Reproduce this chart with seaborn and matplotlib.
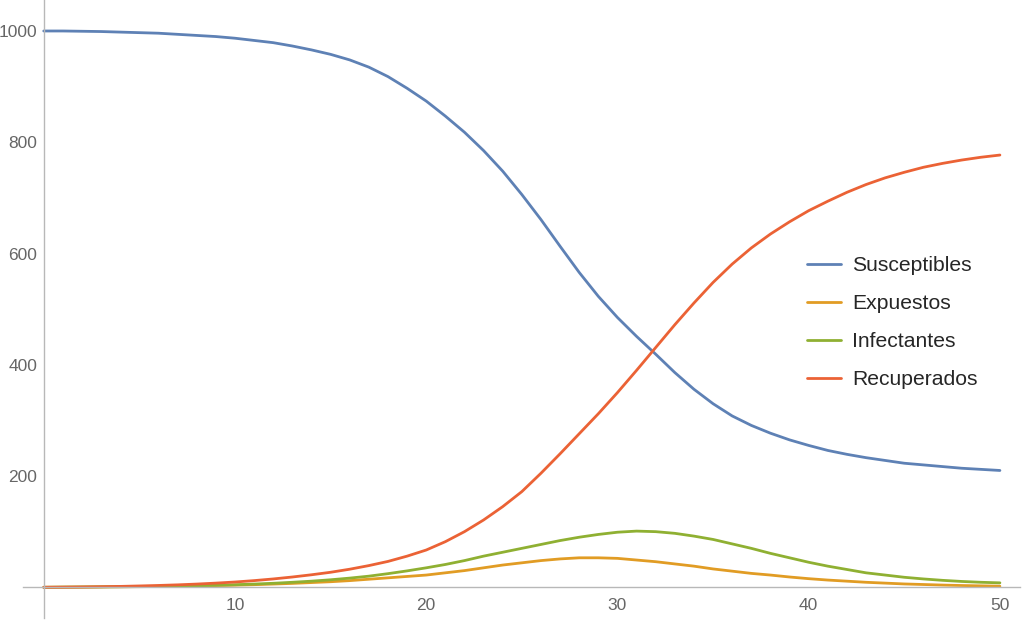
import numpy as np
import pandas as pd
import seaborn as sns
import matplotlib.pyplot as plt
from matplotlib.ticker import FixedLocator

# valores (t = 0..50)
dias = list(range(51))
susceptibles = [1000, 1000, 999.5, 999, 998, 997, 996, 994, 992, 990,
                987, 983, 979, 973, 966, 958, 948, 935, 918, 897,
                874, 847, 818, 785, 748, 706, 661, 613, 566, 523,
                485, 451, 419, 386, 356, 330, 308, 291, 277, 265,
                255, 246, 239, 233, 228, 223, 220, 217, 214, 212, 210]
expuestos = [0, 0.2, 0.4, 0.6, 0.8, 1.1, 1.5, 2, 2.5, 3.1,
             3.8, 4.7, 5.8, 7, 8.5, 10, 12, 14.5, 17, 19.5,
             22, 26, 30, 35, 40, 44, 48, 51, 53, 53,
             52, 49, 46, 42, 38, 33, 29, 25, 22, 18.5,
             15.5, 13, 11, 9, 7.5, 6, 5, 4, 3.2, 2.6, 2]
infectantes = [0, 0.3, 0.5, 0.7, 1, 1.3, 1.7, 2.2, 2.8, 3.6,
               4.6, 5.8, 7.2, 9, 11, 13.5, 16.5, 20, 24.5, 29.5,
               35, 41, 48, 56, 63, 70, 77, 84, 90, 95,
               99, 101, 100, 97, 92, 86, 78, 70, 61, 53,
               45, 38, 32, 26, 22, 18, 15, 12.5, 10.5, 9, 8]
recuperados = [0, 0.2, 0.5, 1, 1.6, 2.4, 3.3, 4.4, 5.8, 7.5,
               9.5, 12, 15, 18.5, 22.5, 27, 32.5, 39, 46.5, 56,
               67, 82, 100, 121, 145, 172, 205, 240, 276, 312,
               350, 390, 431, 472, 511, 548, 581, 610, 635, 657,
               677, 694, 710, 724, 736, 746, 755, 762, 768, 773, 777]

grupos = ["Susceptibles", "Expuestos", "Infectantes", "Recuperados"]
colores = ["#5E81B5", "#E19C24", "#8FB032", "#EB6235"]

df = pd.DataFrame({
    "t": dias * 4,
    "valor": susceptibles + expuestos + infectantes + recuperados,
    "grupo": sum([[g] * len(dias) for g in grupos], []),
})

sns.set_style("white")
plt.rcParams["font.family"] = ["Liberation Sans", "DejaVu Sans"]

fig = plt.figure(figsize=(10.24, 6.2), dpi=100)
ax = fig.add_axes([23 / 1024, 2 / 620, 997 / 1024, 618 / 620])
sns.lineplot(data=df, x="t", y="valor", hue="grupo", palette=colores,
             linewidth=2, ax=ax)

ax.set_xlim(-1.085, 51.05)
ax.set_ylim(-55.2, 1055.7)
ax.set_xlabel("")
ax.set_ylabel("")

for s in ["top", "right"]:
    ax.spines[s].set_visible(False)
for s in ["left", "bottom"]:
    ax.spines[s].set_position(("data", 0))
    ax.spines[s].set_color("#b8b8b8")
    ax.spines[s].set_linewidth(1)

ax.set_xticks([10, 20, 30, 40, 50])
ax.set_yticks([200, 400, 600, 800, 1000])
ax.xaxis.set_minor_locator(FixedLocator([v for v in range(2, 51, 2) if v % 10]))
ax.yaxis.set_minor_locator(FixedLocator([v for v in range(50, 1050, 50) if v % 200]))
ax.tick_params(which="both", direction="in", color="#b8b8b8", labelcolor="#666666",
               labelsize=12.5)
ax.tick_params(which="major", length=4.5, width=0.8)
ax.tick_params(which="minor", length=2.5, width=0.6)
ax.tick_params(axis="x", pad=7.5)
ax.tick_params(axis="y", pad=4.5)

handles, labels = ax.get_legend_handles_labels()
ax.legend(handles, labels, loc="upper left", bbox_to_anchor=(807 / 1024, 1 - 256 / 620),
          bbox_transform=fig.transFigure, frameon=False, fontsize=15.2,
          handlelength=1.6, handletextpad=0.55, labelspacing=0.9, borderpad=0,
          borderaxespad=0)

fig.savefig("out.png", dpi=100)
